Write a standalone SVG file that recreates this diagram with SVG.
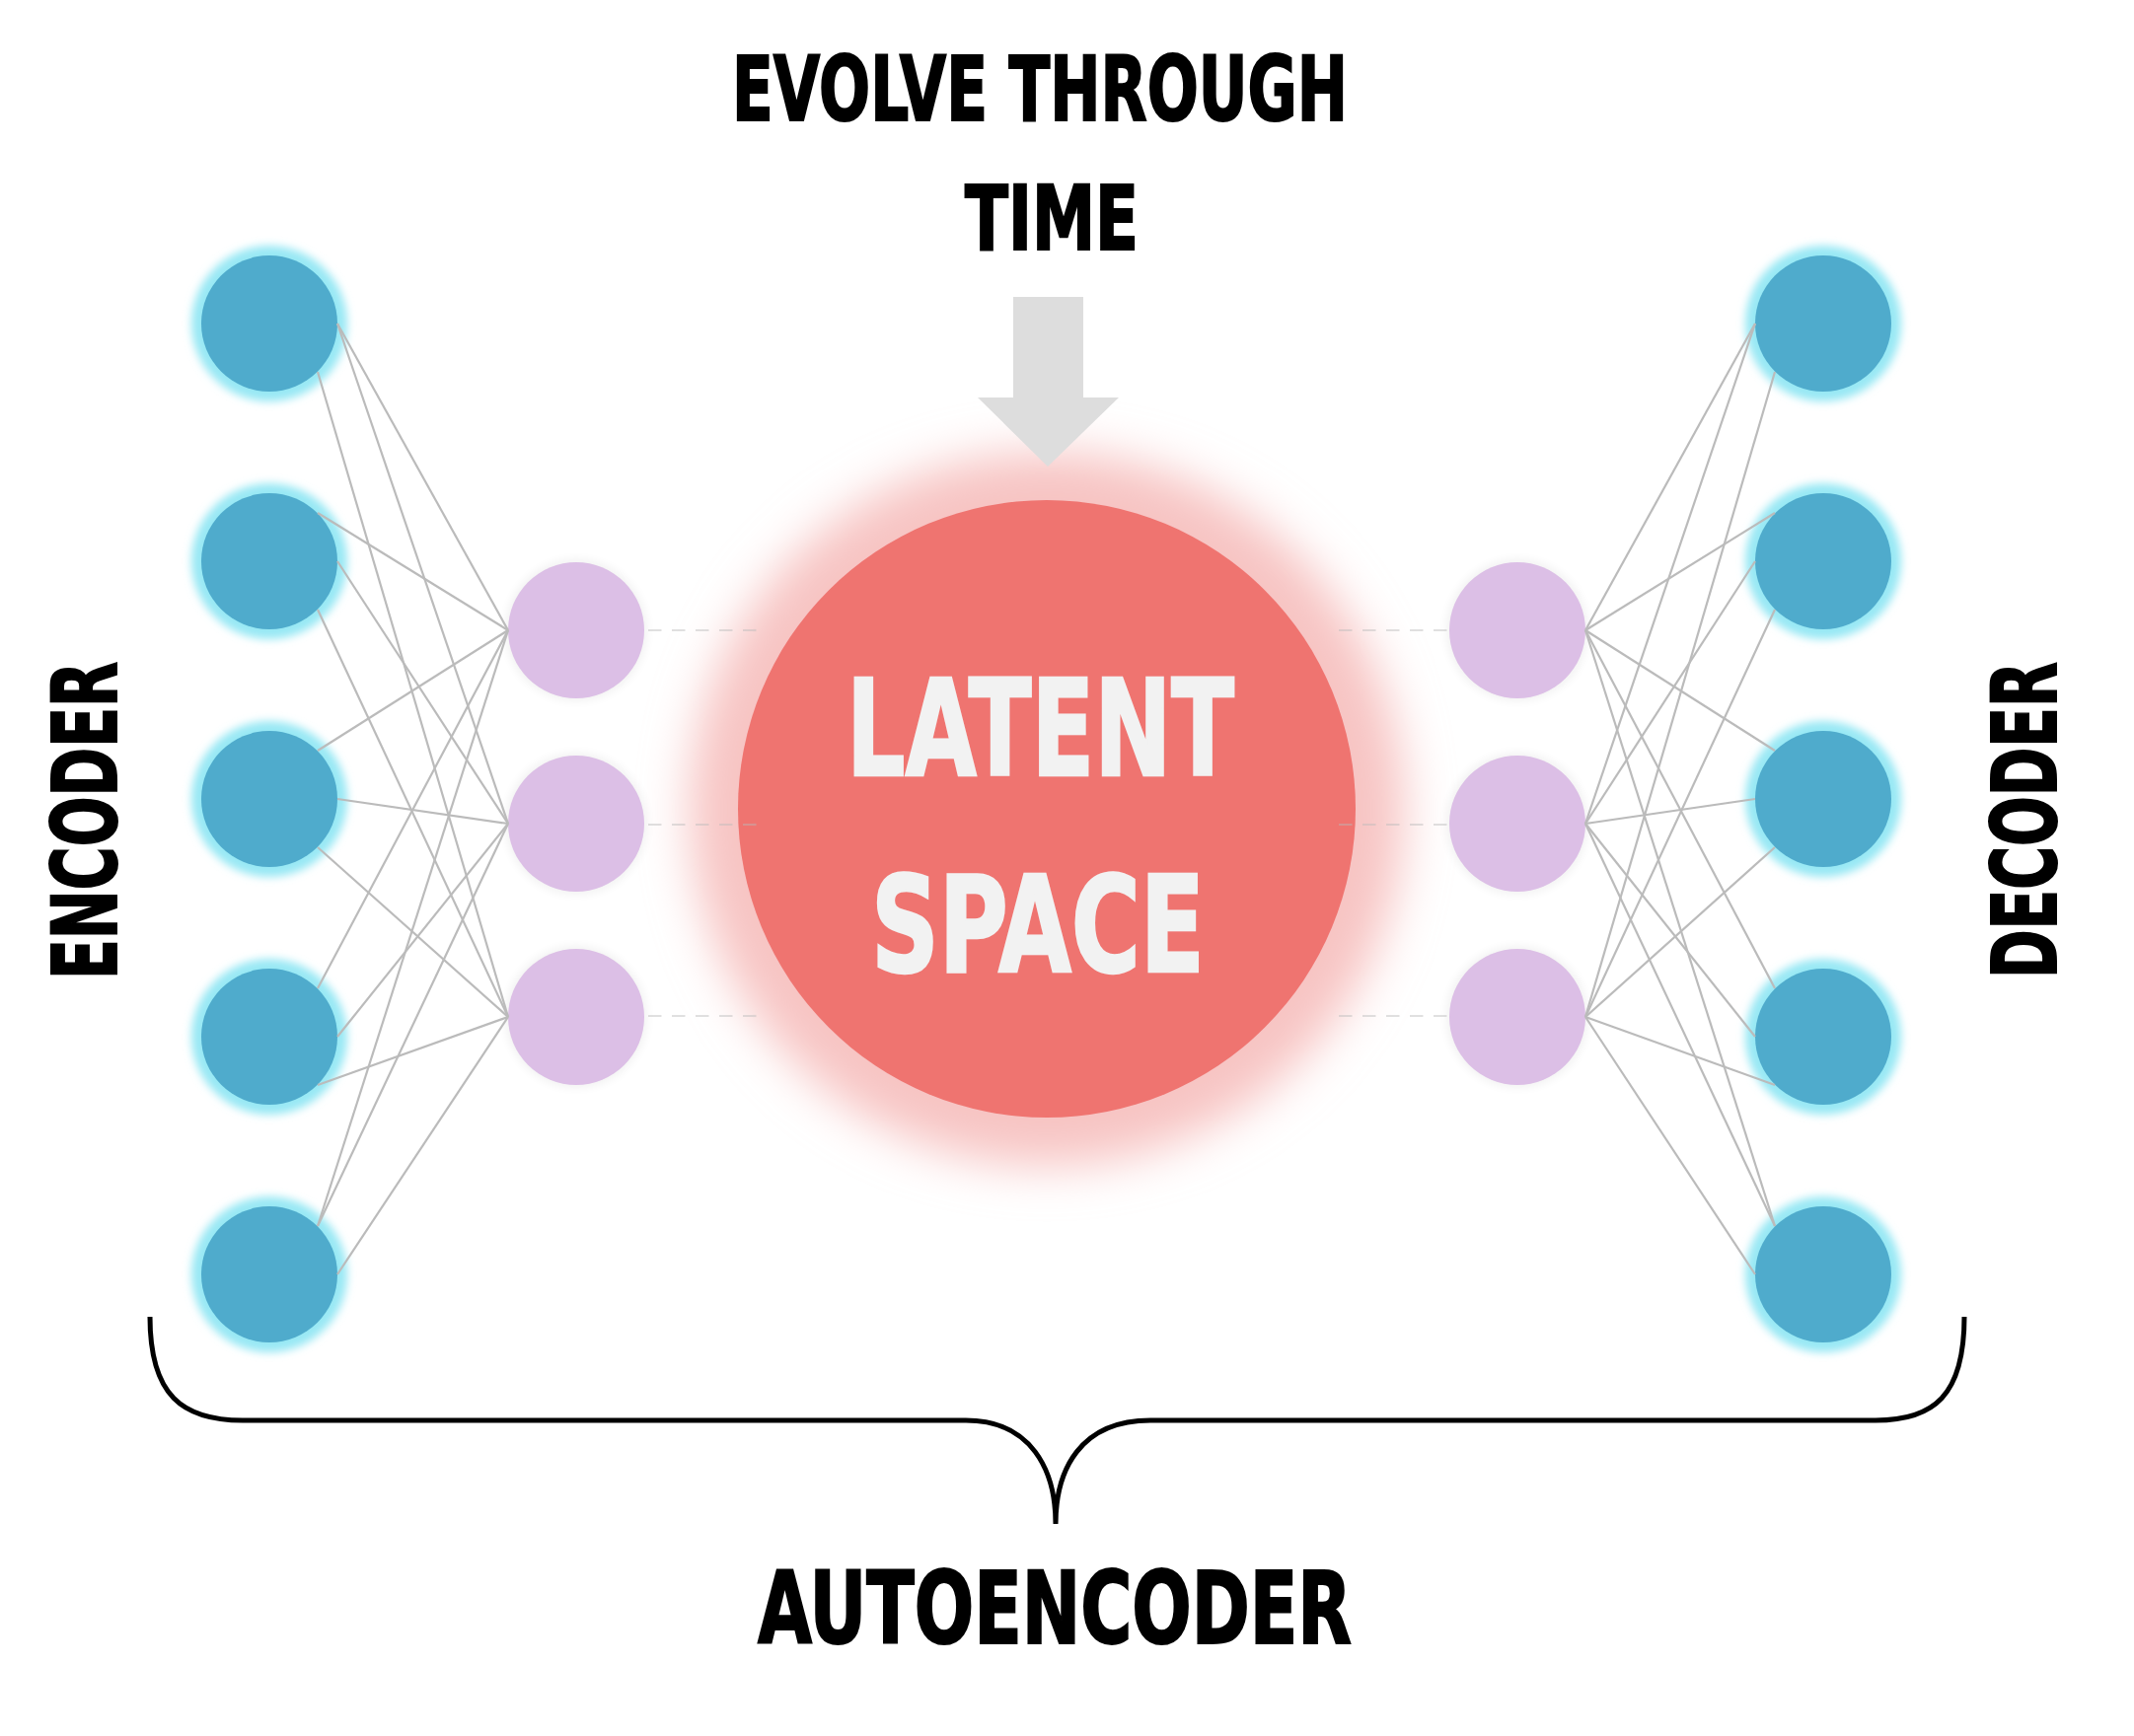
<svg xmlns="http://www.w3.org/2000/svg" width="2163" height="1760" viewBox="0 0 2163 1760">
<defs>
<style>
.lbl{font-family:"DejaVu Sans Condensed","DejaVu Sans","Liberation Sans Narrow",sans-serif;font-weight:bold;font-stretch:condensed;}
.blk{fill:#000;stroke:#000;stroke-width:2;}
.wht{fill:#f2f2f2;stroke:#f2f2f2;stroke-width:2.5;}
.blue{fill:#4fabcc;}
.bglow{fill:#98e8f4;filter:url(#fBlue);}
.purple{fill:#dcbfe6;}
.pshadow{fill:#000;opacity:0.05;filter:url(#fPurple);}
.conn line{stroke:#bbbbbb;stroke-width:2.2;}
.dash{stroke:#666;stroke-opacity:0.45;stroke-width:3;stroke-dasharray:13.5 10.5;}
</style>
<filter id="fBlue" x="-30%" y="-30%" width="160%" height="160%"><feGaussianBlur stdDeviation="4.5"/></filter>
<filter id="fPurple" x="-30%" y="-30%" width="160%" height="160%"><feGaussianBlur stdDeviation="5"/></filter>
<filter id="fRed" x="-30%" y="-30%" width="160%" height="160%"><feGaussianBlur stdDeviation="24"/></filter>
</defs>
<rect width="2163" height="1760" fill="#fff"/>

<g id="title">
<text class="lbl blk" x="742" y="122" font-size="91" textLength="624" lengthAdjust="spacingAndGlyphs">EVOLVE THROUGH</text>
<text class="lbl blk" x="978" y="253" font-size="91" textLength="176" lengthAdjust="spacingAndGlyphs">TIME</text>
</g>

<g id="latent-space">
<circle cx="1061" cy="820" r="362" fill="#f7c4c3" filter="url(#fRed)"/>
<circle cx="1061" cy="820" r="313" fill="#ef7470"/>
<text class="lbl wht" x="858" y="786" font-size="135" textLength="393" lengthAdjust="spacingAndGlyphs">LATENT</text>
<text class="lbl wht" x="883" y="985" font-size="135" textLength="338" lengthAdjust="spacingAndGlyphs">SPACE</text>
</g>

<g id="time-arrow">
<path d="M1027,301 H1098 V403 H1134 L1062,473 L991,403 H1027 Z" fill="#dddddd"/>
</g>

<g id="encoder-inputs">
<g id="enc-in-1"><circle class="bglow" cx="273" cy="328" r="79"/><circle class="blue" cx="273" cy="328" r="69"/></g>
<g id="enc-in-2"><circle class="bglow" cx="273" cy="569" r="79"/><circle class="blue" cx="273" cy="569" r="69"/></g>
<g id="enc-in-3"><circle class="bglow" cx="273" cy="810" r="79"/><circle class="blue" cx="273" cy="810" r="69"/></g>
<g id="enc-in-4"><circle class="bglow" cx="273" cy="1051" r="79"/><circle class="blue" cx="273" cy="1051" r="69"/></g>
<g id="enc-in-5"><circle class="bglow" cx="273" cy="1292" r="79"/><circle class="blue" cx="273" cy="1292" r="69"/></g>
</g>

<g id="encoder-hidden">
<g id="enc-h-1"><circle class="pshadow" cx="584" cy="639" r="72"/><circle class="purple" cx="584" cy="639" r="69"/></g>
<g id="enc-h-2"><circle class="pshadow" cx="584" cy="835" r="72"/><circle class="purple" cx="584" cy="835" r="69"/></g>
<g id="enc-h-3"><circle class="pshadow" cx="584" cy="1031" r="72"/><circle class="purple" cx="584" cy="1031" r="69"/></g>
</g>

<g id="decoder-hidden">
<g id="dec-h-1"><circle class="pshadow" cx="1538" cy="639" r="72"/><circle class="purple" cx="1538" cy="639" r="69"/></g>
<g id="dec-h-2"><circle class="pshadow" cx="1538" cy="835" r="72"/><circle class="purple" cx="1538" cy="835" r="69"/></g>
<g id="dec-h-3"><circle class="pshadow" cx="1538" cy="1031" r="72"/><circle class="purple" cx="1538" cy="1031" r="69"/></g>
</g>

<g id="decoder-outputs">
<g id="dec-out-1"><circle class="bglow" cx="1848" cy="328" r="79"/><circle class="blue" cx="1848" cy="328" r="69"/></g>
<g id="dec-out-2"><circle class="bglow" cx="1848" cy="569" r="79"/><circle class="blue" cx="1848" cy="569" r="69"/></g>
<g id="dec-out-3"><circle class="bglow" cx="1848" cy="810" r="79"/><circle class="blue" cx="1848" cy="810" r="69"/></g>
<g id="dec-out-4"><circle class="bglow" cx="1848" cy="1051" r="79"/><circle class="blue" cx="1848" cy="1051" r="69"/></g>
<g id="dec-out-5"><circle class="bglow" cx="1848" cy="1292" r="79"/><circle class="blue" cx="1848" cy="1292" r="69"/></g>
</g>

<g id="connectors" class="conn">
<line x1="342" y1="328" x2="515" y2="639"/>
<line x1="342" y1="328" x2="515" y2="835"/>
<line x1="322" y1="377" x2="515" y2="1031"/>
<line x1="322" y1="520" x2="515" y2="639"/>
<line x1="342" y1="569" x2="515" y2="835"/>
<line x1="322" y1="618" x2="515" y2="1031"/>
<line x1="322" y1="761" x2="515" y2="639"/>
<line x1="342" y1="810" x2="515" y2="835"/>
<line x1="322" y1="859" x2="515" y2="1031"/>
<line x1="322" y1="1002" x2="515" y2="639"/>
<line x1="342" y1="1051" x2="515" y2="835"/>
<line x1="322" y1="1100" x2="515" y2="1031"/>
<line x1="322" y1="1243" x2="515" y2="639"/>
<line x1="322" y1="1243" x2="515" y2="835"/>
<line x1="342" y1="1292" x2="515" y2="1031"/>

<line x1="1779" y1="328" x2="1607" y2="639"/>
<line x1="1779" y1="328" x2="1607" y2="835"/>
<line x1="1799" y1="377" x2="1607" y2="1031"/>
<line x1="1799" y1="520" x2="1607" y2="639"/>
<line x1="1779" y1="569" x2="1607" y2="835"/>
<line x1="1799" y1="618" x2="1607" y2="1031"/>
<line x1="1799" y1="761" x2="1607" y2="639"/>
<line x1="1779" y1="810" x2="1607" y2="835"/>
<line x1="1799" y1="859" x2="1607" y2="1031"/>
<line x1="1799" y1="1002" x2="1607" y2="639"/>
<line x1="1779" y1="1051" x2="1607" y2="835"/>
<line x1="1799" y1="1100" x2="1607" y2="1031"/>
<line x1="1799" y1="1243" x2="1607" y2="639"/>
<line x1="1799" y1="1243" x2="1607" y2="835"/>
<line x1="1779" y1="1292" x2="1607" y2="1031"/>

<line class="dash" x1="657" y1="639" x2="767" y2="639"/>
<line class="dash" x1="657" y1="836" x2="767" y2="836"/>
<line class="dash" x1="657" y1="1030" x2="767" y2="1030"/>
<line class="dash" x1="1357" y1="639" x2="1467" y2="639"/>
<line class="dash" x1="1357" y1="836" x2="1467" y2="836"/>
<line class="dash" x1="1357" y1="1030" x2="1467" y2="1030"/>
</g>

<g id="encoder-label">
<text class="lbl blk" transform="translate(118,993) rotate(-90)" font-size="91" textLength="322" lengthAdjust="spacingAndGlyphs">ENCODER</text>
</g>
<g id="decoder-label">
<text class="lbl blk" transform="translate(2084,992) rotate(-90)" font-size="91" textLength="321" lengthAdjust="spacingAndGlyphs">DECODER</text>
</g>

<g id="brace">
<path d="M152,1335 C152,1415 185,1440 246,1440 H979 C1045,1440 1070,1490 1070,1545 C1070,1490 1095,1440 1166,1440 H1901 C1960,1440 1991,1415 1991,1335" fill="none" stroke="#000" stroke-width="5"/>
</g>

<g id="autoencoder-label">
<text class="lbl blk" x="768" y="1666" font-size="101" textLength="602" lengthAdjust="spacingAndGlyphs">AUTOENCODER</text>
</g>
</svg>
